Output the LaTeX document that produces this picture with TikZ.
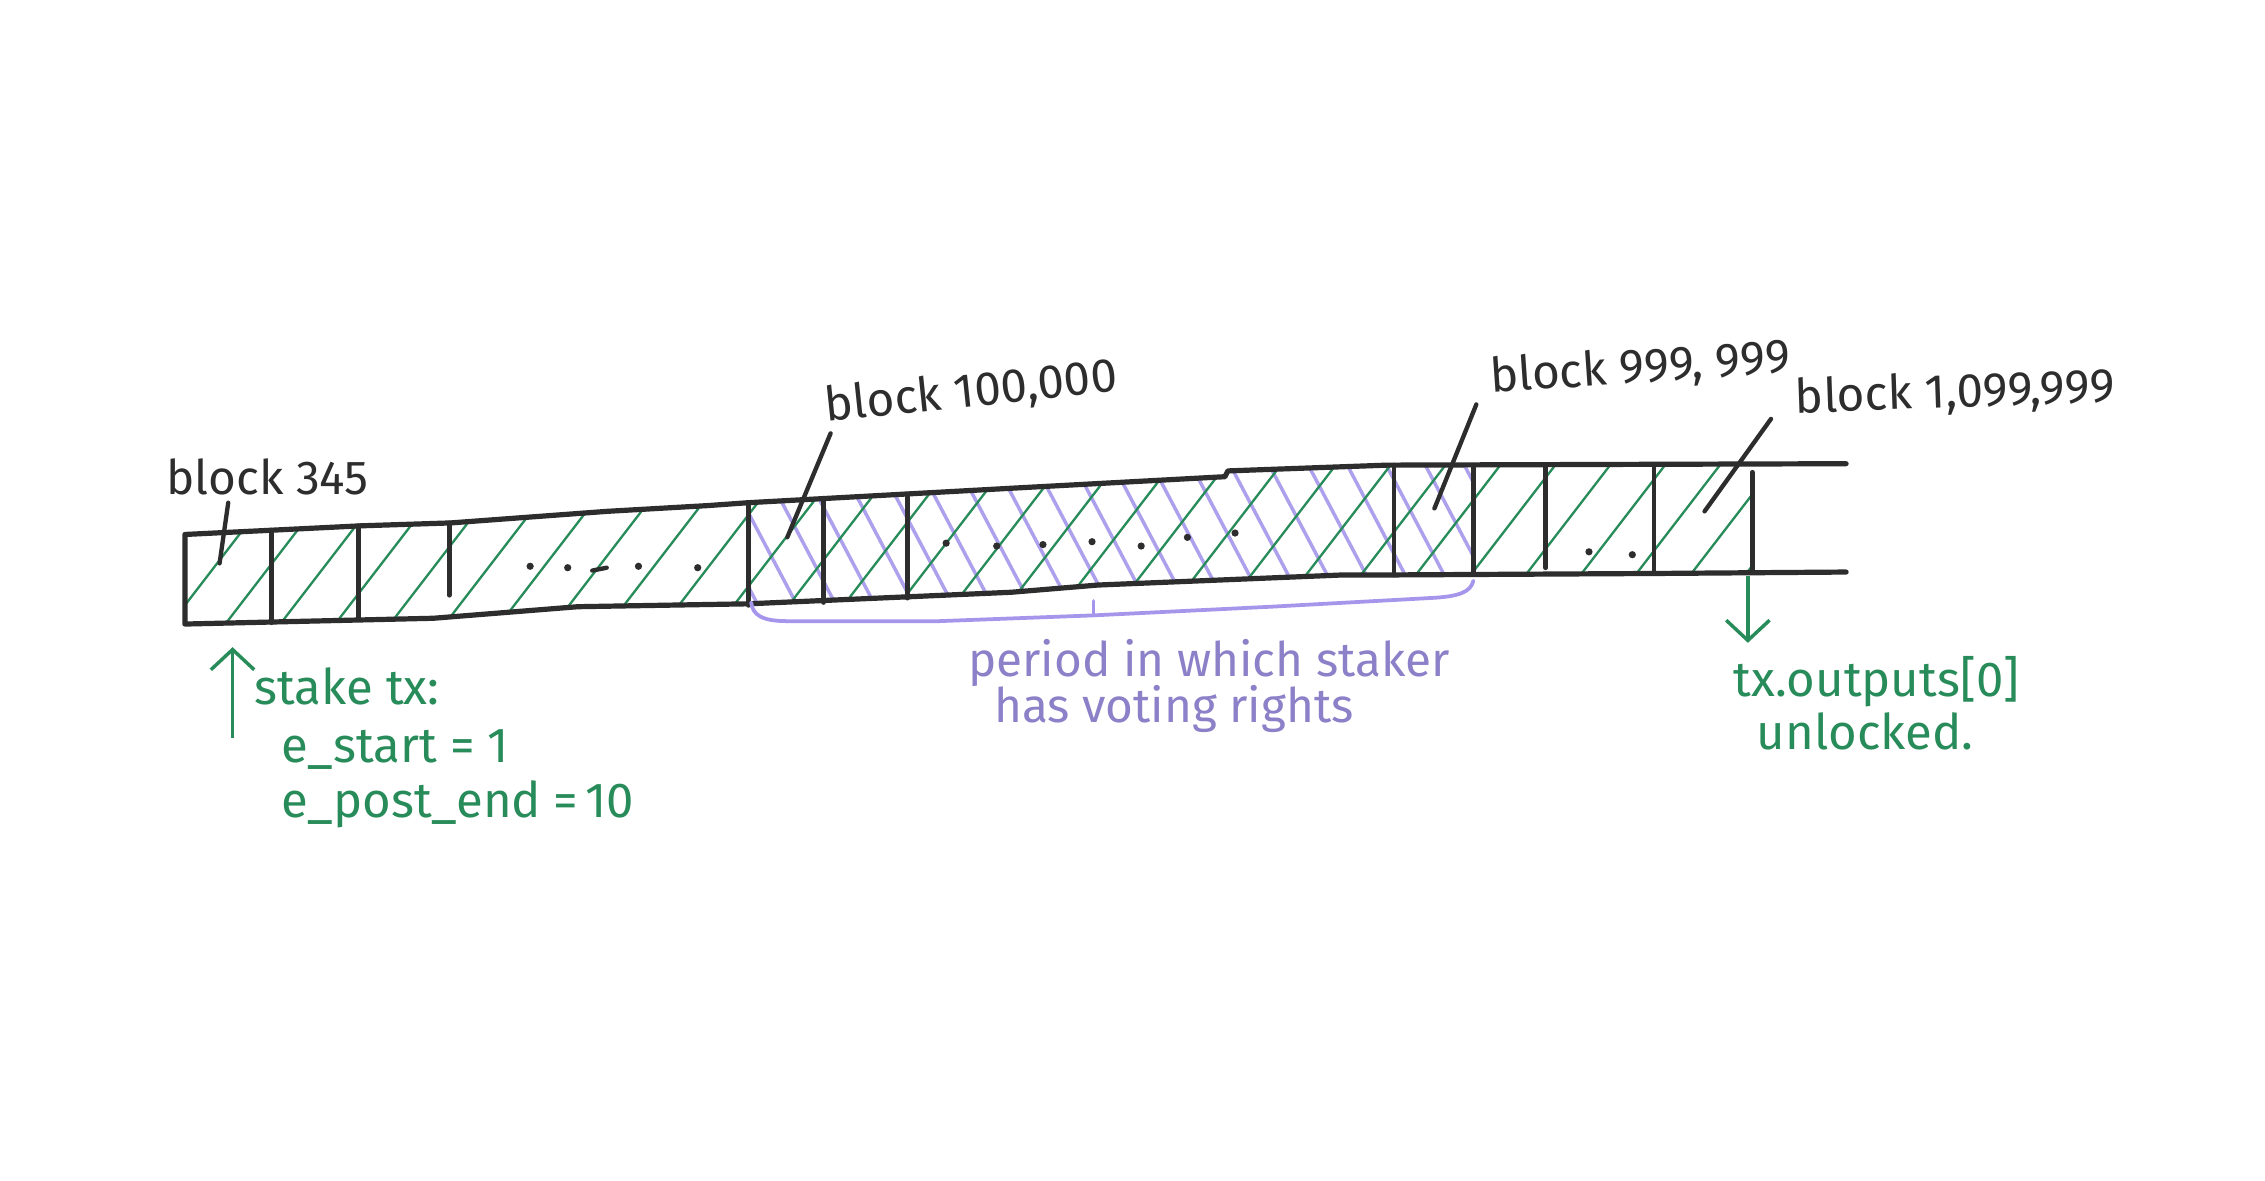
\documentclass[tikz,border=0pt]{standalone}
\usepackage{fontspec}
\setmainfont{Fira Sans}
\usetikzlibrary{arrows.meta}
\definecolor{ink}{RGB}{45,45,45}
\definecolor{pgreen}{RGB}{40,140,90}
\definecolor{ppurple}{RGB}{165,150,235}
\tikzset{
  strip/.style={draw=ink, line width=3.6pt, line join=round, line cap=round},
  divider/.style={draw=ink, line width=3.4pt, line cap=round},
  leader/.style={draw=ink, line width=3pt, line cap=round},
  hatchg/.style={draw=pgreen, line width=1.6pt, line cap=round},
  hatchp/.style={draw=ppurple, line width=2.4pt, line cap=round, opacity=0.9},
  blabel/.style={font=\fontsize{33}{37}\selectfont, text=ink, inner sep=0pt},
  gtext/.style={font=\fontsize{34}{38}\selectfont, text=pgreen, inner sep=0pt},
  ptext/.style={font=\fontsize{33}{37}\selectfont, text=ppurple!85!black, inner sep=0pt},
  garrow/.style={draw=pgreen, line width=2.4pt, -{Straight Barb[length=14pt,width=30pt,line width=2.4pt]}},
  brace/.style={draw=ppurple, line width=2.6pt, line cap=round, line join=round},
  dot/.style={fill=ink, circle, inner sep=0pt, minimum size=5pt}
}
\begin{document}
\begin{tikzpicture}[x=1pt,y=-1pt]
\fill[white] (0,0) rectangle (1568,817);
\useasboundingbox (0,0) rectangle (1568,817);
\def\strippath{(128,370) -- (250,364) -- (312,362) -- (420,354) -- (490,350) -- (518,348) -- (700,338) -- (848,330) -- (850,326) -- (960,322) -- (1278,321) -- (1278,396) -- (1145,397) -- (965,398) -- (930,398) -- (760,405) -- (700,410) -- (518,418) -- (400,420) -- (300,428) -- (128,432) -- cycle}
% purple hatching
\begin{scope}
  \clip \strippath;
  \clip (518,300) rectangle (1020,450);
  \foreach \x in {470,497,...,1010} \draw[hatchp] (\x,315) -- ++(58,110);
\end{scope}
% green hatching
\begin{scope}
  \clip \strippath;
  \clip (128,300) rectangle (1213,450);
  \foreach \x in {70,108,...,1180} \draw[hatchg] (\x,445) -- ++(100,-130);
\end{scope}
% strip outline (top and bottom lines, left end)
\draw[strip] (1278,321) -- (960,322) -- (850,326) -- (848,330) -- (700,338) -- (518,348) -- (490,350) -- (420,354) -- (312,362) -- (250,364) -- (128,370) -- (128,432) -- (300,428) -- (400,420) -- (518,418) -- (700,410) -- (760,405) -- (930,398) -- (965,398) -- (1145,397) -- (1278,396);
% dividers
\foreach \x/\a/\b in {188/367/431, 248/364/428, 518/348/419, 570/345/417, 628/342/414, 965/322/398, 1020/322/396, 1070/322/393, 1145/322/397, 1213/327/396}
  \draw[divider] (\x,\a) -- (\x,\b);
\draw[divider] (311,362) -- (311,412);
% dots
\foreach \x/\y [count=\i] in {367/392, 393/393, 442/392, 483/393, 655/376, 690/378, 722/377, 756/375, 790/378, 822/372, 855/369, 1100/382, 1130/384}
  \node[dot] (d\i) at (\x,\y) {};
\draw[ink, line width=3pt, line cap=round] (410,395) -- (420,393);
% block labels
\node[blabel, anchor=base west] (b345) at (115,342) {block 345};
\node[blabel, anchor=base west, rotate=6] (b100k) at (572,292) {block 100,000};
\node[blabel, anchor=base west, rotate=4] (b999) at (1032,272) {block 999, 999};
\node[blabel, anchor=base west, rotate=2] (b1099) at (1243,286) {block 1,099,999};
\coordinate (c345) at (152,390);
\coordinate (c100k) at (545,372);
\coordinate (c999) at (993,352);
\coordinate (c1099) at (1180,354);
\draw[leader] ([xshift=43pt,yshift=-6pt]b345.base west) -- (c345);
\draw[leader] ([xshift=3pt,yshift=-8pt]b100k.base west) -- (c100k);
\draw[leader] ([xshift=-10pt,yshift=-8pt]b999.base west) -- (c999);
\draw[leader] ([xshift=-17pt,yshift=-4pt]b1099.base west) -- (c1099);
% green stake tx annotation
\coordinate (upbot) at (161,511);
\coordinate (uptop) at (161,448);
\draw[garrow] (upbot) -- (uptop);
\node[gtext, anchor=base west] (stake) at (176,488) {stake tx:};
\node[gtext, anchor=base west] (estart) at (195,528) {e\_start = 1};
\node[gtext, anchor=base west] (eend) at (195,566) {e\_post\_end\hspace{0.25em}=\hspace{0.15em}10};
% purple brace and text
\coordinate (bl) at (520,417);
\coordinate (bm) at (757,426);
\coordinate (br) at (1020,402);
\draw[brace] (bl) .. controls (521,426) and (528,430) .. (545,430) -- (650,430) -- (bm) -- (880,420) -- (990,414) .. controls (1010,413) and (1018,410) .. (br);
\draw[brace] (bm) -- ([yshift=10pt]bm);
\node[ptext, anchor=base west] (period) at (670,468) {period in which staker};
\node[ptext, anchor=base west] (voting) at (688,500) {has voting rights};
% green unlocked annotation
\coordinate (dntop) at (1210,399);
\coordinate (dnbot) at (1210,445);
\draw[garrow] (dntop) -- (dnbot);
\node[gtext, anchor=base west] (txout) at (1200,482) {tx.outputs[0]};
\node[gtext, anchor=base west] (unl) at (1216,519) {unlocked.};
\end{tikzpicture}
\end{document}
